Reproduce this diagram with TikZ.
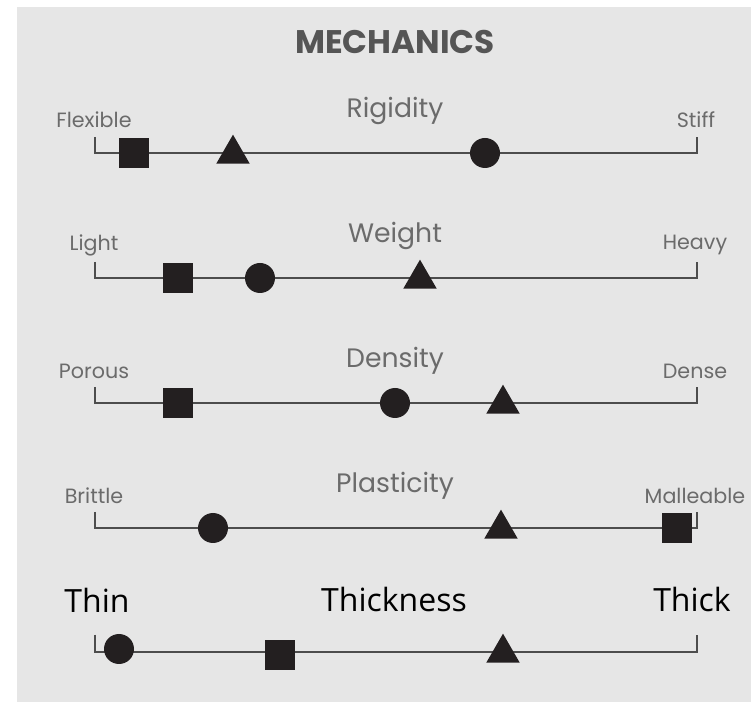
\documentclass[tikz,border=0pt]{standalone}
\usepackage{fontspec}
\setmainfont{Poppins}
\newfontfamily\bigfont{Open Sans}
\usetikzlibrary{shapes.geometric, positioning}
\definecolor{panelgray}{HTML}{E6E6E6}
\definecolor{labelgray}{HTML}{6B6B6B}
\definecolor{titlegray}{HTML}{555555}
\definecolor{linegray}{HTML}{4D4D4D}
\definecolor{markblack}{HTML}{231F20}
\tikzset{
	scaleline/.style={draw=linegray, line width=1.9pt},
	sqmark/.style={rectangle, fill=markblack, minimum size=22.5pt, inner sep=0pt},
	cimark/.style={circle, fill=markblack, minimum size=22.5pt, inner sep=0pt},
	trimark/.style={regular polygon, regular polygon sides=3, fill=markblack, minimum size=29pt, inner sep=0pt},
	endlabel/.style={text=labelgray, inner sep=0pt, font=\fontsize{15.5}{17}\selectfont},
	rowtitle/.style={text=labelgray, inner sep=0pt, font=\fontsize{20}{22}\selectfont},
	biglabel/.style={text=black, inner sep=0pt, font=\bigfont\fontsize{24}{27}\selectfont}
}

\begin{document}
\begin{tikzpicture}[x=0.75pt, y=-0.75pt]
	% Page and panel
	\useasboundingbox (0,0) rectangle (751,702);
	\fill[panelgray] (17,7) rectangle (751,702);
	
	% Title
	\node[text=titlegray, font=\bfseries\fontsize{24.5}{28}\selectfont] (title) at (395,42) {MECHANICS};
	
	% Ends of the five scales
	\coordinate (lA) at (95,153);  \coordinate (rA) at (697,153);
	\coordinate (lB) at (95,278);  \coordinate (rB) at (697,278);
	\coordinate (lC) at (95,403);  \coordinate (rC) at (697,403);
	\coordinate (lD) at (95,528);  \coordinate (rD) at (697,528);
	\coordinate (lE) at (95,652);  \coordinate (rE) at (697,652);
	
	% Scale lines with end ticks
	\draw[scaleline] ([yshift=12pt]lA) -- (lA) -- (rA) -- ([yshift=12pt]rA);
	\draw[scaleline] ([yshift=12pt]lB) -- (lB) -- (rB) -- ([yshift=12pt]rB);
	\draw[scaleline] ([yshift=12pt]lC) -- (lC) -- (rC) -- ([yshift=12pt]rC);
	\draw[scaleline] ([yshift=12pt]lD) -- (lD) -- (rD) -- ([yshift=12pt]rD);
	\draw[scaleline] ([yshift=13pt]lE) -- (lE) -- (rE) -- ([yshift=13pt]rE);
	
	% Rigidity
	\node[rowtitle] (rigidity) at (395,111) {Rigidity};
	\node[endlabel] (flexible) at (94,120) {Flexible};
	\node[endlabel] (stiff) at (696,120) {Stiff};
	\node[sqmark] (sqA) at (134,153) {};
	\node[trimark] (triA) at (233,154) {};
	\node[cimark] (ciA) at (485,153) {};
	
	% Weight
	\node[rowtitle] (weight) at (395,236) {Weight};
	\node[endlabel] (light) at (94,245) {Light};
	\node[endlabel] (heavy) at (695,245) {Heavy};
	\node[sqmark] (sqB) at (178,278) {};
	\node[cimark] (ciB) at (260,278) {};
	\node[trimark] (triB) at (420,279) {};
	
	% Density
	\node[rowtitle] (density) at (395,361) {Density};
	\node[endlabel] (porous) at (94,371) {Porous};
	\node[endlabel] (dense) at (695,371) {Dense};
	\node[sqmark] (sqC) at (178,403) {};
	\node[cimark] (ciC) at (395,403) {};
	\node[trimark] (triC) at (503,404) {};
	
	% Plasticity
	\node[rowtitle] (plasticity) at (395,486) {Plasticity};
	\node[endlabel] (brittle) at (94,496) {Brittle};
	\node[endlabel] (malleable) at (695,496) {Malleable};
	\node[cimark] (ciD) at (213,528) {};
	\node[trimark] (triD) at (501,529) {};
	\node[sqmark] (sqD) at (677,528) {};
	
	% Thickness
	\node[biglabel] (thickness) at (394,600) {Thickness};
	\node[biglabel] (thin) at (97,600) {Thin};
	\node[biglabel] (thick) at (692,600) {Thick};
	\node[cimark] (ciE) at (119,649) {};
	\node[sqmark] (sqE) at (280,655) {};
	\node[trimark] (triE) at (503,653) {};
\end{tikzpicture}
\end{document}
